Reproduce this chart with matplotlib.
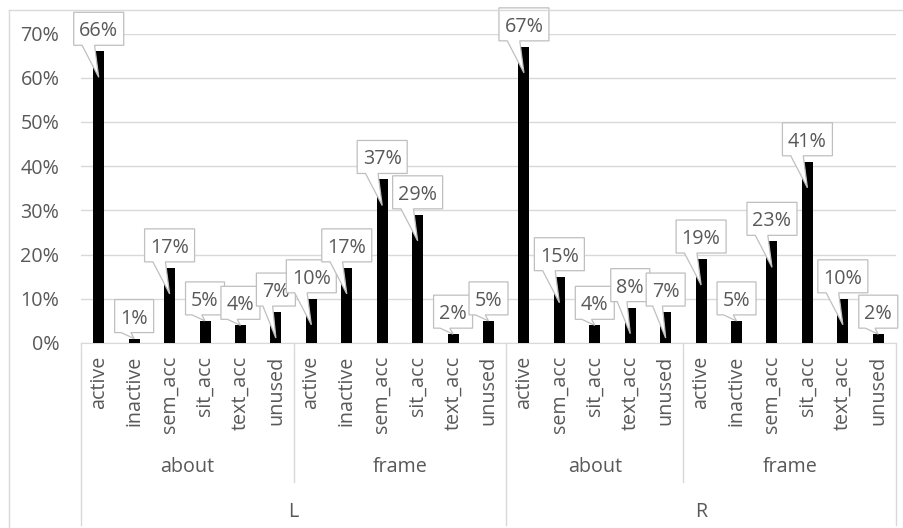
import matplotlib.pyplot as plt
import matplotlib.ticker as mticker
from matplotlib.patches import Polygon
from matplotlib.lines import Line2D
import numpy as np

plt.rcParams['font.family'] = ['Open Sans', 'DejaVu Sans']

# bar categories in plotting order (L/about, L/frame, R/about, R/frame)
categories = ['active', 'inactive', 'sem_acc', 'sit_acc', 'text_acc', 'unused',
              'active', 'inactive', 'sem_acc', 'sit_acc', 'text_acc', 'unused',
              'active', 'sem_acc', 'sit_acc', 'text_acc', 'unused',
              'active', 'inactive', 'sem_acc', 'sit_acc', 'text_acc', 'unused']
values = [0.66, 0.01, 0.17, 0.05, 0.04, 0.07,
          0.10, 0.17, 0.37, 0.29, 0.02, 0.05,
          0.67, 0.15, 0.04, 0.08, 0.07,
          0.19, 0.05, 0.23, 0.41, 0.10, 0.02]
groups = ['about', 'frame', 'about', 'frame']
group_sizes = [6, 6, 5, 6]
sides = ['L', 'R']
side_sizes = [12, 11]

GRID = '#d9d9d9'
TEXT = '#595959'
FS = 14.2

W, H = 904, 528
fig = plt.figure(figsize=(W / 100, H / 100), dpi=100)
ax_px = (81, 185, 815, 309.4)
ax = fig.add_axes([ax_px[0] / W, ax_px[1] / H, ax_px[2] / W, ax_px[3] / H])

x = np.arange(len(values))
ax.bar(x, values, width=0.31, color='black', zorder=3)
ax.set_xlim(-0.5, len(values) - 0.5)
ax.set_ylim(0, 0.70)
ax.yaxis.set_major_locator(mticker.MultipleLocator(0.1))
ax.yaxis.set_major_formatter(mticker.PercentFormatter(1.0, decimals=0))
ax.grid(axis='y', color=GRID, lw=1.0)
ax.set_axisbelow(True)
for s in ['top', 'right', 'left']:
    ax.spines[s].set_visible(False)
ax.spines['bottom'].set_color(GRID)
ax.tick_params(axis='y', length=0, pad=15.5, labelsize=FS, labelcolor=TEXT)
ax.set_xticks([])

# pixels per data unit
sx = ax_px[2] / len(values)
sy = ax_px[3] / 0.70

# callout labels: box above each bar with a wedge pointing into it
for i, v in enumerate(values):
    lab = f'{v:.0%}'
    w = (17 + 11 * len(lab)) / sx
    h = 33 / sy
    cy = v + 22.5 / sy
    tip = v - (26 / sy if v * sy > 30 else 0)
    x0, x1 = i - w / 2, i + w / 2
    y0, y1 = cy - h / 2, cy + h / 2
    pts = [(x0, y1), (x1, y1), (x1, y0), (x0 + w * 5 / 12, y0), (i, tip),
           (x0 + w * 2 / 12, y0), (x0, y0)]
    z = 4 + 0.02 * i
    ax.add_patch(Polygon(pts, closed=True, fc='white', ec='#bfbfbf', lw=0.9,
                         zorder=z, clip_on=False))
    ax.text(i, cy, lab, ha='center', va='center_baseline', fontsize=FS,
            color=TEXT, zorder=z + 0.01)

# multi-level category axis
xt = ax.get_xaxis_transform()
for i, c in enumerate(categories):
    ax.annotate(c, xy=(i, 0), xycoords=xt, xytext=(0, -9),
                textcoords='offset points', rotation=90, ha='center', va='top',
                fontsize=FS, color=TEXT, annotation_clip=False)

start = 0
for g, n in zip(groups, group_sizes):
    ax.annotate(g, xy=(start + (n - 1) / 2, 0), xycoords=xt, xytext=(0, -89),
                textcoords='offset points', ha='center', va='center',
                fontsize=FS, color=TEXT, annotation_clip=False)
    start += n

start = 0
for s, n in zip(sides, side_sizes):
    ax.annotate(s, xy=(start + (n - 1) / 2, 0), xycoords=xt, xytext=(0, -121.5),
                textcoords='offset points', ha='center', va='center',
                fontsize=FS, color=TEXT, annotation_clip=False)
    start += n

group_edges = np.cumsum([0] + group_sizes)
side_edges = set(np.cumsum([0] + side_sizes))
for b in group_edges:
    depth = 182 if b in side_edges else 139
    ax.plot([b - 0.5, b - 0.5], [0, -depth / ax_px[3]], transform=xt,
            color=GRID, lw=1.0, clip_on=False)

# chart area border (top and left)
fig.add_artist(Line2D([9 / W, 1], [1 - 10 / H, 1 - 10 / H], color=GRID, lw=1.0))
fig.add_artist(Line2D([9 / W, 9 / W], [0, 1 - 10 / H], color=GRID, lw=1.0))

fig.savefig('out.png', dpi=100)
